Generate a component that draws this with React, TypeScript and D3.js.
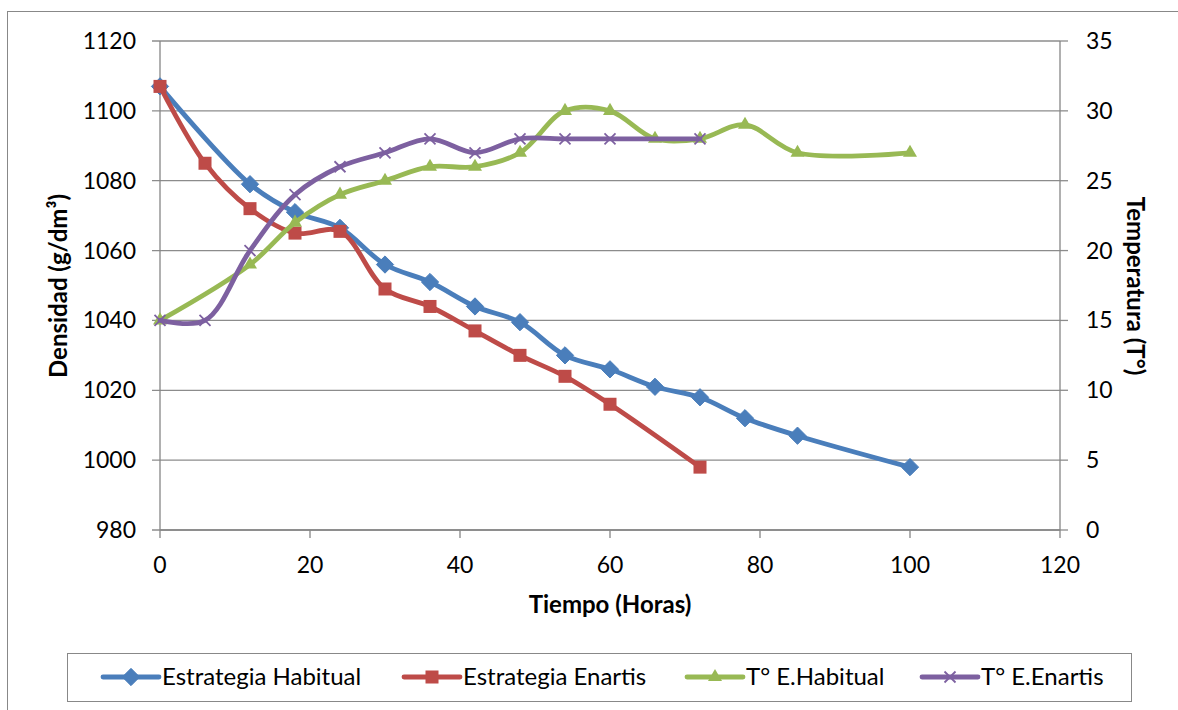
import React from "react";
import * as d3 from "d3";

// hours
const hoursHabitual = [0, 12, 18, 24, 30, 36, 42, 48, 54, 60, 66, 72, 78, 85, 100];
const hoursEnartis = [0, 6, 12, 18, 24, 30, 36, 42, 48, 54, 60, 72];

// density (g/dm3)
const densHabitual = [1107, 1079, 1071, 1066.5, 1056, 1051, 1044, 1039.5, 1030, 1026, 1021, 1018, 1012, 1007, 998];
const densEnartis = [1107, 1085, 1072, 1065, 1065.5, 1049, 1044, 1037, 1030, 1024, 1016, 998];

// temperature (°)
const tempHabitual = [15, 19, 22, 24, 25, 26, 26, 27, 30, 30, 28, 28, 29, 27, 27];
const tempEnartis = [15, 15, 20, 24, 26, 27, 28, 27, 28, 28, 28, 28];

const xTicks = [0, 20, 40, 60, 80, 100, 120];
const yLeftTicks = [980, 1000, 1020, 1040, 1060, 1080, 1100, 1120];
const yRightTicks = [0, 5, 10, 15, 20, 25, 30, 35];

const legendLabels = ["Estrategia Habitual", "Estrategia Enartis", "T° E.Habitual", "T° E.Enartis"];

const W = 1178;
const H = 710;
const FONT = "Lato, 'Open Sans', sans-serif";
const AXIS = "#868686";
const GRID = "#8c8c8c";

const x = d3.scaleLinear().domain([0, 120]).range([160, 1060]);
const yL = d3.scaleLinear().domain([980, 1120]).range([530, 41]);
const yR = d3.scaleLinear().domain([0, 35]).range([530, 41]);

const curve = d3.curveCatmullRom.alpha(0.5);

type Series = {
  name: string;
  xs: number[];
  ys: number[];
  scale: d3.ScaleLinear<number, number>;
  color: string;
  marker: "diamond" | "square" | "triangle" | "x";
};

const series: Series[] = [
  { name: legendLabels[0], xs: hoursHabitual, ys: densHabitual, scale: yL, color: "#4a7ebb", marker: "diamond" },
  { name: legendLabels[1], xs: hoursEnartis, ys: densEnartis, scale: yL, color: "#be4b48", marker: "square" },
  { name: legendLabels[2], xs: hoursHabitual, ys: tempHabitual, scale: yR, color: "#98b954", marker: "triangle" },
  { name: legendLabels[3], xs: hoursEnartis, ys: tempEnartis, scale: yR, color: "#7d60a0", marker: "x" },
];

const Marker = ({ type, cx, cy, color }: { type: string; cx: number; cy: number; color: string }) => {
  if (type === "diamond") {
    return <path d={d3.symbol(d3.symbolDiamond2, 190)()!} transform={`translate(${cx},${cy})`} fill={color} stroke={color} strokeWidth={1} />;
  }
  if (type === "square") {
    return <rect x={cx - 6.5} y={cy - 6.5} width={13} height={13} fill={color} />;
  }
  if (type === "triangle") {
    return <path d={d3.symbol(d3.symbolTriangle, 85)()!} transform={`translate(${cx},${cy})`} fill={color} />;
  }
  return (
    <g stroke={color} strokeWidth={1.8}>
      <line x1={cx - 5.5} y1={cy - 5.5} x2={cx + 5.5} y2={cy + 5.5} />
      <line x1={cx - 5.5} y1={cy + 5.5} x2={cx + 5.5} y2={cy - 5.5} />
    </g>
  );
};

export default function App() {
  const legendX = [103, 404, 687, 922];

  return (
    <svg width={W} height={H} style={{ position: "absolute", left: 0, top: 0, background: "#fff" }} fontFamily={FONT}>
      <rect x={7.5} y={11.5} width={W} height={H} fill="#fff" stroke="#888" strokeWidth={1} />

      {/* gridlines */}
      {yLeftTicks.map((t) => (
        <line key={t} x1={152} x2={1060} y1={yL(t)} y2={yL(t)} stroke={GRID} strokeWidth={1.3} />
      ))}
      {/* right ticks */}
      {yRightTicks.map((t) => (
        <line key={t} x1={1060} x2={1068} y1={yR(t)} y2={yR(t)} stroke={GRID} strokeWidth={1.3} />
      ))}
      {/* bottom ticks */}
      {xTicks.map((t) => (
        <line key={t} x1={x(t)} x2={x(t)} y1={530} y2={538} stroke={AXIS} strokeWidth={1.3} />
      ))}
      <line x1={160} x2={160} y1={41} y2={530} stroke={AXIS} strokeWidth={1.3} />
      <line x1={1060} x2={1060} y1={41} y2={530} stroke={AXIS} strokeWidth={1.3} />
      <line x1={160} x2={1060} y1={530} y2={530} stroke={AXIS} strokeWidth={1.3} />

      {/* tick labels */}
      {yLeftTicks.map((t) => (
        <text key={t} x={136} y={yL(t) + 8} textAnchor="end" fontSize={23} fill="#000">{t}</text>
      ))}
      {yRightTicks.map((t) => (
        <text key={t} x={1086} y={yR(t) + 8} textAnchor="start" fontSize={23} fill="#000">{t}</text>
      ))}
      {xTicks.map((t) => (
        <text key={t} x={x(t)} y={573} textAnchor="middle" fontSize={23} fill="#000">{t}</text>
      ))}

      {/* axis titles */}
      <text x={610} y={613} textAnchor="middle" fontSize={24} fontWeight="bold">Tiempo (Horas)</text>
      <text transform={`translate(67,286) rotate(-90)`} textAnchor="middle" fontSize={24} fontWeight="bold">Densidad (g/dm³)</text>
      <text transform={`translate(1127,286) rotate(90)`} textAnchor="middle" fontSize={24} fontWeight="bold">Temperatura (T°)</text>

      {/* series */}
      {series.map((s) => {
        const pts = s.xs.map((h, i) => [x(h), s.scale(s.ys[i])] as [number, number]);
        const path = d3.line().curve(curve)(pts)!;
        return (
          <g key={s.name}>
            <path d={path} fill="none" stroke={s.color} strokeWidth={4.8} strokeLinejoin="round" strokeLinecap="round" />
            {pts.map(([cx, cy], i) => (
              <Marker key={i} type={s.marker} cx={cx} cy={cy} color={s.color} />
            ))}
          </g>
        );
      })}

      {/* legend */}
      <rect x={67.5} y={653.5} width={1064} height={48} fill="#fff" stroke="#888" strokeWidth={1} />
      {series.map((s, i) => (
        <g key={s.name}>
          <line x1={legendX[i]} x2={legendX[i] + 56} y1={677} y2={677} stroke={s.color} strokeWidth={4.8} strokeLinecap="round" />
          <Marker type={s.marker} cx={legendX[i] + 28} cy={677} color={s.color} />
          <text x={legendX[i] + 59} y={685} fontSize={24} fill="#000">{s.name}</text>
        </g>
      ))}
    </svg>
  );
}
